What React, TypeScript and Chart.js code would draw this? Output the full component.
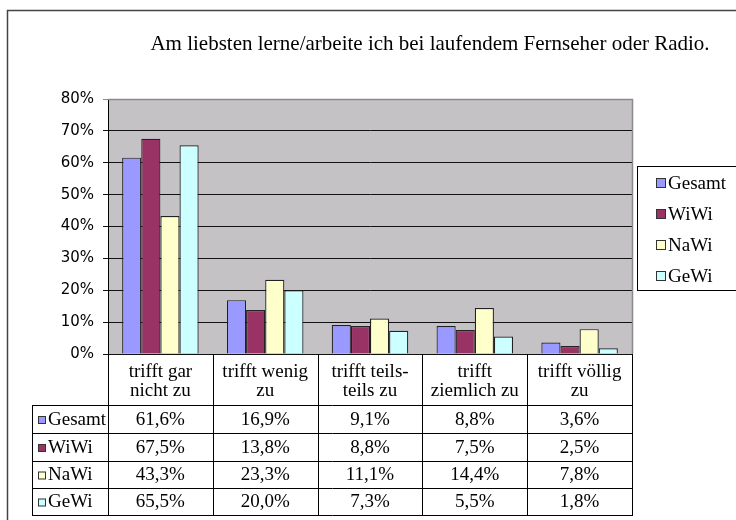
import React, { useEffect, useRef } from 'react';
import { Chart, registerables } from 'chart.js';

Chart.register(...registerables);

const TITLE = 'Am liebsten lerne/arbeite ich bei laufendem Fernseher oder Radio.';
const categories: string[][] = [
  ['trifft gar', 'nicht zu'],
  ['trifft wenig', 'zu'],
  ['trifft teils-', 'teils zu'],
  ['trifft', 'ziemlich zu'],
  ['trifft völlig', 'zu'],
];
const seriesNames = ['Gesamt', 'WiWi', 'NaWi', 'GeWi'];
const gesamt = [61.6, 16.9, 9.1, 8.8, 3.6];
const wiwi = [67.5, 13.8, 8.8, 7.5, 2.5];
const nawi = [43.3, 23.3, 11.1, 14.4, 7.8];
const gewi = [65.5, 20.0, 7.3, 5.5, 1.8];
const seriesValues = [gesamt, wiwi, nawi, gewi];
const seriesColors = ['#9999FF', '#993366', '#FFFFCC', '#CCFFFF'];
const yMin = 0;
const yMax = 80;
const yStep = 10;

const SERIF = '"Liberation Serif", "Times New Roman", serif';
const fmt = (v: number) => v.toFixed(1).replace('.', ',') + '%';

const tablePlugin = {
  id: 'excelTable',
  beforeDraw(chart: any) {
    const { ctx, chartArea: a, width, height } = chart;
    ctx.save();
    ctx.fillStyle = '#ffffff';
    ctx.fillRect(0, 0, width, height);
    ctx.strokeStyle = '#444444';
    ctx.lineWidth = 1.5;
    ctx.beginPath();
    ctx.moveTo(7.5, height + 2);
    ctx.lineTo(7.5, 10.5);
    ctx.lineTo(width + 2, 10.5);
    ctx.stroke();
    ctx.fillStyle = '#C4C2C5';
    ctx.fillRect(a.left, a.top, a.right - a.left, a.bottom - a.top);
    ctx.restore();
  },
  afterDraw(chart: any) {
    const { ctx, chartArea: a, width } = chart;
    ctx.save();
    ctx.strokeStyle = '#8a8a8a';
    ctx.lineWidth = 1.5;
    ctx.beginPath();
    ctx.moveTo(a.left, a.top + 0.5);
    ctx.lineTo(a.right + 0.5, a.top + 0.5);
    ctx.lineTo(a.right + 0.5, a.bottom);
    ctx.stroke();

    ctx.fillStyle = '#000';
    ctx.font = `21px ${SERIF}`;
    ctx.textAlign = 'center';
    ctx.textBaseline = 'middle';
    ctx.fillText(TITLE, 430, 44);

    const lx = 637, ly = 166, lh = 124;
    ctx.strokeStyle = '#000';
    ctx.lineWidth = 1;
    ctx.strokeRect(lx + 0.5, ly + 0.5, width - lx + 5, lh);
    ctx.font = `19px ${SERIF}`;
    seriesNames.forEach((n, i) => {
      const cy = 183 + i * 31;
      ctx.fillStyle = seriesColors[i];
      ctx.fillRect(656, cy - 5, 10, 10);
      ctx.strokeStyle = '#333';
      ctx.strokeRect(656.5, cy - 4.5, 9, 9);
      ctx.fillStyle = '#000';
      ctx.textAlign = 'left';
      ctx.fillText(n, 668, cy + 1);
    });

    const n = categories.length;
    const cw = (a.right - a.left) / n;
    const rowBounds = [405, 433, 461, 488, 515];
    const tLeft = 32;
    ctx.strokeStyle = '#000';
    ctx.lineWidth = 1;
    ctx.beginPath();
    for (let i = 0; i <= n; i++) {
      const x = Math.round(a.left + i * cw) + 0.5;
      ctx.moveTo(x, a.bottom);
      ctx.lineTo(x, rowBounds[rowBounds.length - 1]);
    }
    rowBounds.forEach((y) => {
      ctx.moveTo(tLeft, y + 0.5);
      ctx.lineTo(a.right + 1, y + 0.5);
    });
    ctx.moveTo(tLeft + 0.5, rowBounds[0]);
    ctx.lineTo(tLeft + 0.5, rowBounds[rowBounds.length - 1]);
    ctx.stroke();

    ctx.font = `19px ${SERIF}`;
    ctx.fillStyle = '#000';
    ctx.textAlign = 'center';
    categories.forEach((lines, i) => {
      const cx = a.left + (i + 0.5) * cw;
      lines.forEach((t, j) => ctx.fillText(t, cx, 372 + j * 19));
    });
    seriesNames.forEach((name, r) => {
      const cy = (rowBounds[r] + rowBounds[r + 1]) / 2 + 1;
      ctx.fillStyle = seriesColors[r];
      ctx.fillRect(38, cy - 4, 8, 8);
      ctx.strokeStyle = '#333';
      ctx.strokeRect(38.5, cy - 3.5, 7, 7);
      ctx.fillStyle = '#000';
      ctx.textAlign = 'left';
      ctx.fillText(name, 48, cy);
      ctx.textAlign = 'center';
      seriesValues[r].forEach((v, i) => {
        ctx.fillText(fmt(v), a.left + (i + 0.5) * cw, cy);
      });
    });
    ctx.restore();
  },
};

export default function App() {
  const ref = useRef<HTMLCanvasElement | null>(null);
  useEffect(() => {
    if (!ref.current) return;
    const chart = new Chart(ref.current, {
      type: 'bar',
      data: {
        labels: categories.map((c) => c.join(' ')),
        datasets: seriesNames.map((name, i) => ({
          label: name,
          data: seriesValues[i],
          backgroundColor: seriesColors[i],
          borderColor: '#222222',
          borderWidth: 1.2,
          categoryPercentage: 0.73,
          barPercentage: 1,
        })),
      },
      options: {
        responsive: false,
        animation: false,
        devicePixelRatio: 1,
        layout: { padding: { top: 99, right: 104, bottom: 166, left: 0 } },
        plugins: { legend: { display: false }, title: { display: false }, tooltip: { enabled: false } },
        scales: {
          x: { display: false },
          y: {
            min: yMin,
            max: yMax,
            afterFit: (scale: any) => {
              scale.width = 108;
            },
            ticks: {
              stepSize: yStep,
              color: '#000',
              padding: 9,
              font: { family: '"DejaVu Sans", Verdana, sans-serif', size: 15 },
              callback: (v: any) => v + '%',
            },
            border: { display: true, color: '#000', width: 1 },
            grid: {
              color: (c: any) => (c.tick && c.tick.value === yMax ? '#8a8a8a' : '#111'),
              lineWidth: 1,
              tickLength: 5,
              drawTicks: true,
            },
          },
        },
      },
      plugins: [tablePlugin],
    });
    return () => chart.destroy();
  }, []);
  return (
    <div style={{ position: 'absolute', left: 0, top: 0, width: 736, height: 520 }}>
      <canvas ref={ref} width={736} height={520} style={{ display: 'block' }} />
    </div>
  );
}
